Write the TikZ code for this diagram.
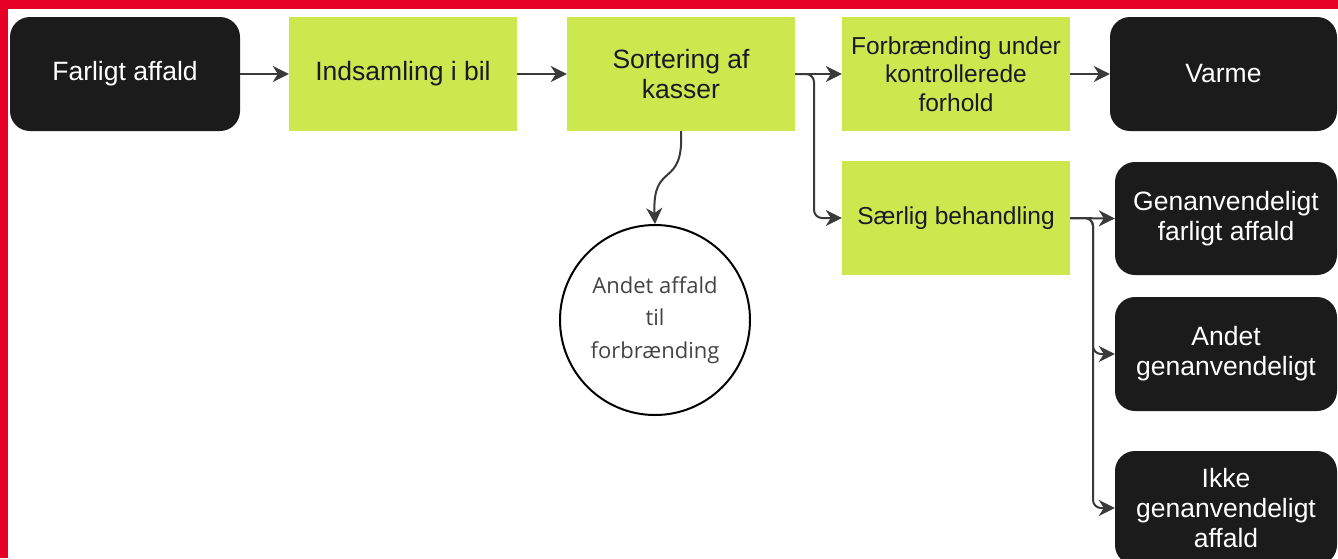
\documentclass[tikz,border=0pt]{standalone}
\usepackage{fontspec}
\setmainfont{Liberation Sans}
\newfontfamily\circfont{Open Sans}
\usetikzlibrary{arrows.meta}
\definecolor{lime}{HTML}{CCE84E}
\definecolor{boxblack}{HTML}{1B1B1B}
\definecolor{arrowgray}{HTML}{3A3A3A}
\definecolor{bandred}{HTML}{E60026}
\definecolor{greentext}{HTML}{1A1A26}
\definecolor{circtext}{HTML}{444444}
\tikzset{
  tip/.tip={Stealth[length=16pt,width=16pt,inset=5pt]},
  blackbox/.style={fill=boxblack, rounded corners=20pt, text=white, align=center,
    minimum height=114pt, inner sep=0pt, font=\fontsize{26.5}{30}\selectfont},
  greenbox/.style={fill=lime, text=greentext, align=center, minimum width=228pt,
    minimum height=114pt, inner sep=0pt, font=\fontsize{26.5}{30}\selectfont},
  conn/.style={draw=arrowgray, line width=2pt, rounded corners=8pt, -tip},
}
\begin{document}
\begin{tikzpicture}[x=1pt,y=-1pt]
\useasboundingbox (0,0) rectangle (1338,558);
\clip (0,0) rectangle (1338,558);
\fill[white] (0,0) rectangle (1338,558);
\fill[bandred] (0,0) rectangle (1338,9);
\fill[bandred] (0,0) rectangle (8,558);

\node[blackbox, minimum width=230pt] (fa) at (125,74) {Farligt affald};
\node[greenbox] (ind) at (403,74) {Indsamling i bil};
\node[greenbox] (sort) at (681,74) {Sortering af\\kasser};
\node[greenbox, font=\fontsize{24.5}{28.5}\selectfont] (forb) at (956,74) {Forbrænding under\\kontrollerede\\forhold};
\node[blackbox, minimum width=227pt] (varme) at (1223.5,74) {Varme};
\node[greenbox, font=\fontsize{24.5}{28.5}\selectfont] (saer) at (956,218) {Særlig behandling};
\node[blackbox, minimum width=222pt, minimum height=113pt] (gen) at (1226,218.5) {Genanvendeligt\\farligt affald};
\node[blackbox, minimum width=222pt] (andet) at (1226,354) {Andet\\genanvendeligt};
\node[blackbox, minimum width=222pt] (ikke) at (1226,508) {Ikke\\genanvendeligt\\affald};
\node[circle, draw=black, line width=2pt, minimum size=190pt, inner sep=0pt, align=center,
  text=circtext, font=\circfont\fontsize{22}{32.5}\selectfont] (circ) at (655,320) {Andet affald\\til\\forbrænding};

\draw[conn] (fa.east) -- (ind.west);
\draw[conn] (ind.east) -- (sort.west);
\draw[conn] (sort.east) -- (forb.west);
\coordinate (split1) at (814,74);
\draw[conn] (sort.east) -- (split1) |- (saer.west);
\draw[conn] (forb.east) -- (varme.west);
\coordinate (split2) at (1093,218);
\draw[conn] (saer.east) -- (gen.west);
\draw[conn] (saer.east) -- (split2) |- (andet.west);
\draw[conn] (saer.east) -- (split2) |- (ikke.west);
\draw[draw=arrowgray, line width=2pt, -tip]
  (sort.south) .. controls (684,190) and (652,160) .. (circ.north);
\end{tikzpicture}
\end{document}
